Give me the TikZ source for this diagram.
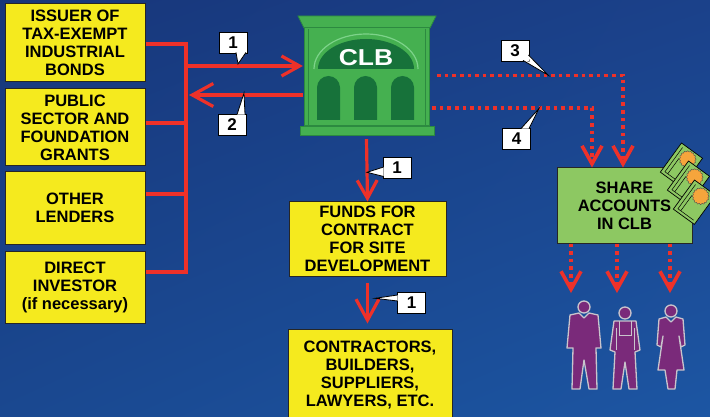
\documentclass[tikz,border=0pt]{standalone}
\usepackage{fontspec}
\setmainfont{Liberation Sans}
\usetikzlibrary{arrows.meta,shapes.geometric,shadings}
\definecolor{bgUL}{HTML}{17367A}
\definecolor{bgUR}{HTML}{1B418A}
\definecolor{bgLL}{HTML}{1A4890}
\definecolor{bgLR}{HTML}{1C56A3}
\definecolor{yboxc}{HTML}{F5EA1E}
\definecolor{redl}{HTML}{EE3129}
\definecolor{gLight}{HTML}{45B050}
\definecolor{gEdge}{HTML}{2C8A40}
\definecolor{gDark}{HTML}{17723A}
\definecolor{gHi}{HTML}{7DD38A}
\definecolor{gShare}{HTML}{8DC862}
\definecolor{purp}{HTML}{7A2A7A}
\definecolor{outl}{HTML}{C9C4CC}
\definecolor{sealc}{HTML}{F6A53C}
\newcommand\mycallout[7]{%
  \node[lbl] (#1) at #2 {#3};
  \fill[white] #4 -- #5 -- #6 #7 -- cycle;
  \draw[line width=0.8pt,line join=miter] #4 -- #5 -- #6;
}
\newcommand\mycert[2]{%
  \begin{scope}[shift={(#1,#2)},rotate=-36]
    \filldraw[fill=gShare,draw=black,line width=0.7pt] (0,0) rectangle (26,36);
    \draw[line width=0.5pt] (3.5,3) -- (3.5,33) -- (23,33);
    \draw[line width=0.5pt] (7,14) -- (7,33);
    \node[star,star points=16,star point ratio=1.15,fill=sealc,draw=black!70,line width=0.4pt,minimum size=17pt,inner sep=0pt] at (14.5,9.5) {};
  \end{scope}
}
\begin{document}
\begin{tikzpicture}[x=1pt,y=-1pt,
  ybox/.style={draw=black!85,line width=1pt,fill=yboxc,align=center,
    font=\fontsize{16.5}{18}\selectfont\bfseries,inner sep=0pt},
  redln/.style={draw=redl,line width=3.2pt,line join=miter},
  tipv/.style={-{Straight Barb[length=18pt,width=20pt]}},
  tipw/.style={-{Straight Barb[length=21pt,width=23pt]}},
  dotln/.style={draw=redl,line width=3.6pt,dash pattern=on 3.6pt off 4pt},
  lbl/.style={draw=black,line width=0.8pt,fill=white,minimum width=28pt,
    minimum height=21pt,inner sep=0pt,font=\fontsize{17}{17}\selectfont\bfseries},
  person/.style={fill=purp,draw=outl,line width=1.3pt,line join=round},
  ]
\useasboundingbox (0,0) rectangle (710,417);
\clip (0,0) rectangle (710,417);
\shade[upper left=bgUL,upper right=bgUR,lower left=bgLL,lower right=bgLR]
  (0,0) rectangle (710,417);

% left boxes
\node[ybox,minimum width=140pt,minimum height=78pt] (b1) at (75,43)
  {ISSUER OF\\TAX-EXEMPT\\INDUSTRIAL\\BONDS};
\node[ybox,minimum width=140pt,minimum height=77pt] (b2) at (75,127.5)
  {PUBLIC\\SECTOR AND\\FOUNDATION\\GRANTS};
\node[ybox,minimum width=140pt,minimum height=72pt] (b3) at (75,208)
  {OTHER\\LENDERS};
\node[ybox,minimum width=140pt,minimum height=72pt] (b4) at (75,287)
  {DIRECT\\INVESTOR\\(if necessary)};

% centre boxes
\node[ybox,minimum width=157pt,minimum height=74pt] (funds) at (367.5,239)
  {FUNDS FOR\\CONTRACT\\FOR SITE\\DEVELOPMENT};
\node[ybox,minimum width=164pt,minimum height=92pt] (contr) at (370,375)
  {CONTRACTORS,\\BUILDERS,\\SUPPLIERS,\\LAWYERS, ETC.};

% share box
\node[ybox,fill=gShare,minimum width=135pt,minimum height=75pt] (share) at (624.5,205.5)
  {SHARE\\ACCOUNTS\\IN CLB};

% bank (anchor node)
\node[minimum width=127pt,minimum height=119pt,inner sep=0pt] (bank) at (366.5,75.5) {};

% red connectors on the left
\coordinate (bus) at (186,0);
\draw[redln] (b1.east |- 0,44) -- (bus |- 0,44) -- (bus |- 0,272) -- (b4.east |- 0,272);
\draw[redln] (b2.east |- 0,123) -- (bus |- 0,123);
\draw[redln] (b3.east |- 0,194) -- (bus |- 0,194);
\draw[redln,tipv] (bus |- 0,66) -- (bank.west |- 0,66);
\draw[redln,tipw] (bank.west |- 0,95) -- (189,95);
\draw[redln,tipv] ([yshift=-4pt]bank.south) -- (funds.north);
\draw[redln,tipw] ([yshift=-6pt]funds.south) -- ([yshift=5pt]contr.north -| funds.south);

% dotted connectors
\draw[dotln,tipv] ([xshift=7pt]bank.east) -| ([xshift=-1.5pt]share.north);
\draw[dotln,tipv] ([xshift=2pt]bank.east |- 0,108) -| ([xshift=-32.5pt]share.north);
\coordinate (p1) at (571,293);
\coordinate (p2) at (617,293);
\coordinate (p3) at (670,293);
\draw[dotln,tipv] (share.south -| p1) -- (p1);
\draw[dotln,tipv] (share.south -| p2) -- (p2);
\draw[dotln,tipv] (share.south -| p3) -- (p3);

% bank building
\filldraw[fill=gLight,draw=gEdge,line width=0.8pt] (298,16) -- (436,16) -- (430,28) -- (304,28) -- cycle;
\filldraw[fill=gLight,draw=gEdge,line width=1pt] (304,28) rectangle (429,126);
\draw[gEdge,line width=0.6pt] (308,29) -- (308,125);
\draw[gEdge,line width=0.6pt] (425,29) -- (425,125);
\filldraw[fill=gLight,draw=gEdge,line width=0.8pt] (300,126) rectangle (434,135);
\draw[gHi,line width=1.2pt] (314,69) arc[start angle=180,end angle=360,x radius=52,y radius=35];
\fill[gDark] (318,69) arc[start angle=180,end angle=360,x radius=48,y radius=30] -- cycle;
\node[text=white,font=\fontsize{23}{23}\selectfont\bfseries,xscale=1.15] (clbtxt) at (366,58) {CLB};
\foreach \xx in {317,354,391}{
  \fill[gDark] (\xx,120) -- (\xx,87.5) arc[start angle=180,end angle=360,radius=11.5] -- (\xx+23,120) -- cycle;
}

% callouts
\mycallout{la}{(233,42.5)}{1}{(236,52.4)}{(238,64)}{(246,52.4)}{}
\mycallout{lb}{(232,124.5)}{2}{(237,114.6)}{(244,93)}{(245,114.6)}{}
\mycallout{lc}{(515,50.5)}{3}{(523,60.4)}{(548,75)}{(528.4,55)}{-- (529.8,61.8)}
\mycallout{ld}{(516.5,138.5)}{4}{(521,128.6)}{(539,108.5)}{(529,128.6)}{}
\mycallout{le}{(397,168)}{1}{(383.6,167)}{(367,172.3)}{(383.6,176.5)}{}
\mycallout{lf}{(411.5,302.5)}{1}{(397.6,295)}{(375,298.3)}{(397.6,301)}{}

% certificates
\mycert{681.5}{143}
\mycert{688.5}{161}
\mycert{694.5}{180}

% people
\draw[person] (584,307) circle (6);
\draw[person] (570,315) -- (579,313) -- (584,318) -- (589,313) -- (598,315) -- (601,348)
  -- (596,348) -- (597,389) -- (589,389) -- (584,360) -- (580,389) -- (572,389)
  -- (573,348) -- (567,348) -- cycle;
\draw[person] (625,313) circle (6);
\draw[person] (614,321) -- (636,321) -- (640,350) -- (635,352) -- (637,389) -- (629,389)
  -- (625,362) -- (621,389) -- (613,389) -- (615,352) -- (610,350) -- cycle;
\draw[outl,line width=1pt] (619,321) -- (619,335) -- (631,335) -- (631,321);
\draw[outl,line width=1pt] (616,328) -- (616,350);
\draw[outl,line width=1pt] (634,328) -- (634,350);
\draw[person] (671,311) circle (6);
\draw[person] (659,319) -- (666,317) -- (671,322) -- (676,317) -- (683,319) -- (685,345)
  -- (681,347) -- (679,336) -- (684,370) -- (677,370) -- (675,389) -- (668,389)
  -- (665,370) -- (658,370) -- (663,336) -- (661,347) -- (657,345) -- cycle;
\end{tikzpicture}
\end{document}
